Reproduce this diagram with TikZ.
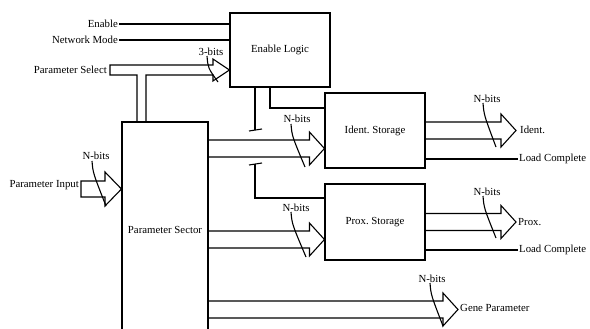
\documentclass[tikz,border=0pt]{standalone}
\usepackage{fontspec}
\setmainfont{Liberation Serif}
\usetikzlibrary{calc}
\frenchspacing
\newcommand\busarrow[2]{%
  \draw[wire] ($(#1)+(0,-8.5)$) -- ($(#2)+(-15,-8.5)$) -- ($(#2)+(-15,-16.5)$) -- (#2)
    -- ($(#2)+(-15,16.5)$) -- ($(#2)+(-15,8.5)$) -- ($(#1)+(0,8.5)$);}
\newcommand\bitslash[2]{%
  \draw[slash] (#1) .. controls ($(#1)+(1,12)$) .. ($(#1)+(#2)$);}
\begin{document}
\begin{tikzpicture}[x=1pt,y=-1pt,
  box/.style={draw,line width=1.1pt,inner sep=0pt,font=\fontsize{10.8}{12}\selectfont},
  lbl/.style={inner sep=1pt,font=\fontsize{10.8}{12}\selectfont},
  wire/.style={line width=1.1pt,line join=miter},
  slash/.style={line width=1.1pt}]
\useasboundingbox (0,0) rectangle (590,329);
% blocks
\node[box,minimum width=100pt,minimum height=74pt] (el) at (280,50) {Enable Logic};
\node[box,minimum width=100pt,minimum height=75pt] (is) at (375,130.5) {Ident.\ Storage};
\node[box,minimum width=100pt,minimum height=76pt] (pxs) at (375,222) {Prox.\ Storage};
\node[box,minimum width=86pt,minimum height=216pt] (ps) at (165,230) {Parameter Sector};
% input labels
\node[lbl,anchor=east] (en) at (119,24) {Enable};
\node[lbl,anchor=east] (nm) at (119,40) {Network Mode};
\node[lbl,anchor=east] (psel) at (108,70) {Parameter Select};
\node[lbl,anchor=east] (pin) at (80,185) {Parameter Input};
\draw[wire] (en.east) -- (en.east -| el.west);
\draw[wire] (nm.east) -- (nm.east -| el.west);
% parameter select bus
\coordinate (selT) at (el.west |- 0,70);
\draw[wire] (137,0 |- ps.north) -- (137,75) -- (110,75) -- (110,65) -- (213,65) -- (213,59)
  -- (selT) -- (213,81) -- (213,75) -- (146,75) -- (146,0 |- ps.north);
\node[lbl] (nb0) at (211,52) {3-bits};
\coordinate (s0) at (207,56);
\bitslash{s0}{11,26}
% parameter input bus
\coordinate (pinT) at (ps.west |- 0,189);
\draw[wire] (81,181) -- (105,181) -- (105,172) -- (pinT) -- (105,206) -- (105,197) -- (81,197) -- cycle;
\node[lbl] (nb1) at (96,156) {N-bits};
\coordinate (s1) at (92,161);
\bitslash{s1}{14,45}
% enable logic control lines
\draw[wire] (el.south -| 255,0) -- (255,130);
\draw[wire] (249,131) -- (262,129);
\draw[wire] (249,165) -- (262,163);
\draw[wire] (255,164) |- (pxs.west |- 0,198);
\draw[wire] (el.south -| 270,0) |- (is.west |- 0,108);
% ident storage input
\coordinate (a1s) at (ps.east |- 0,148.5);
\coordinate (a1t) at (is.west |- 0,148.5);
\busarrow{a1s}{a1t}
\node[lbl] (nb2) at (297,119) {N-bits};
\coordinate (s2) at (291,124);
\bitslash{s2}{14,43}
% ident output
\coordinate (o1s) at (is.east |- 0,130.5);
\coordinate (o1t) at (516,130.5);
\busarrow{o1s}{o1t}
\node[lbl,anchor=west] (idl) at (519,130) {Ident.};
\node[lbl] (nb3) at (487,99) {N-bits};
\coordinate (s3) at (483,103);
\bitslash{s3}{13,44}
\node[lbl,anchor=west] (lc1) at (518,159) {Load Complete};
\draw[wire] (is.east |- lc1.west) -- (lc1.west);
% prox storage input
\coordinate (a2s) at (ps.east |- 0,239.5);
\coordinate (a2t) at (pxs.west |- 0,239.5);
\busarrow{a2s}{a2t}
\node[lbl] (nb4) at (296,208) {N-bits};
\coordinate (s4) at (291,212);
\bitslash{s4}{15,45}
% prox output
\coordinate (o2s) at (pxs.east);
\coordinate (o2t) at (516,222);
\busarrow{o2s}{o2t}
\node[lbl,anchor=west] (pxl) at (517,222) {Prox.};
\node[lbl] (nb5) at (487,192) {N-bits};
\coordinate (s5) at (483,196);
\bitslash{s5}{13,42}
\node[lbl,anchor=west] (lc2) at (518,250) {Load Complete};
\draw[wire] (pxs.east |- lc2.west) -- (lc2.west);
% gene parameter
\coordinate (a3s) at (ps.east |- 0,309.5);
\coordinate (a3t) at (458,309.5);
\busarrow{a3s}{a3t}
\node[lbl,anchor=west] (gpl) at (459,308) {Gene Parameter};
\node[lbl] (nb6) at (432,279) {N-bits};
\coordinate (s6) at (430,283);
\bitslash{s6}{13,43}
\end{tikzpicture}
\end{document}
